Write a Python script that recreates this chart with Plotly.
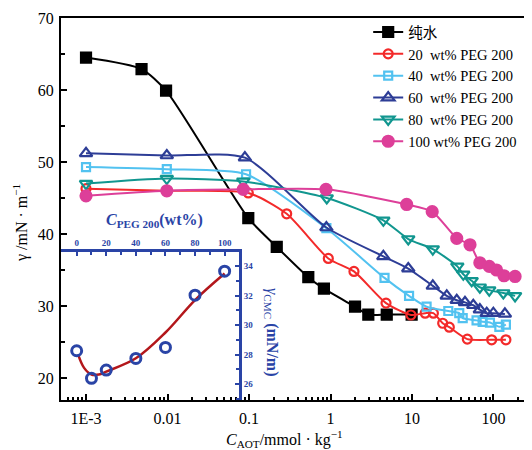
import plotly.graph_objects as go

# ---------------- data ----------------
x_water = [0.001, 0.0048, 0.0096, 0.098, 0.219, 0.534, 0.83, 2.0, 2.91, 4.9, 9.9]
y_water = [64.5, 62.9, 59.9, 42.2, 38.2, 34.0, 32.4, 29.9, 28.8, 28.8, 28.8]

x_p20 = [0.001, 0.0098, 0.098, 0.29, 0.94, 1.94, 4.8, 9.7, 14.5, 18.3, 23.8, 28.7, 47.7, 95, 142]
y_p20 = [46.3, 46.0, 45.7, 42.8, 36.6, 34.8, 30.4, 28.75, 29.0, 29.0, 27.6, 27.05, 25.4, 25.3, 25.3]

x_p40 = [0.001, 0.0098, 0.092, 0.89, 4.6, 9.2, 15.1, 27.9, 38, 41.9, 62, 73.6, 90.5, 118, 142]
y_p40 = [49.3, 49.0, 48.3, 40.8, 33.9, 31.4, 29.9, 29.3, 29.0, 28.3, 28.0, 27.8, 27.7, 27.1, 27.4]

x_p60 = [0.001, 0.0098, 0.089, 0.89, 4.45, 9.0, 18, 26.7, 35.4, 44.7, 56.5, 68, 82.6, 99.6, 138]
y_p60 = [51.2, 50.9, 50.6, 40.9, 36.9, 35.2, 32.8, 31.4, 30.8, 30.5, 30.1, 29.5, 29.0, 29.0, 28.9]

x_p80 = [0.001, 0.0098, 0.085, 0.90, 4.45, 9.0, 18, 36, 42.6, 54, 68, 88.7, 132, 184]
y_p80 = [47.0, 47.7, 47.3, 45.0, 41.9, 39.3, 37.9, 35.5, 34.4, 33.5, 32.6, 32.2, 31.8, 31.4]

x_p100 = [0.001, 0.0098, 0.085, 0.88, 8.6, 17.7, 35.4, 51.5, 68, 88.7, 109, 134.6, 184]
y_p100 = [45.3, 46.0, 46.2, 46.2, 44.1, 43.1, 39.4, 38.5, 36.0, 35.5, 35.0, 34.2, 34.1]

series_names = ["纯水", "20  wt% PEG 200", "40  wt% PEG 200", "60  wt% PEG 200",
                "80  wt% PEG 200", "100 wt% PEG 200"]

# inset
peg_wt = [0, 10, 20, 40, 60, 80, 100]
cmc_gamma = [28.26, 26.39, 26.95, 27.74, 28.49, 32.03, 33.66]
fit_x = [1, 5, 10, 15, 20, 40, 60, 80, 100]
fit_y = [28.0, 27.1, 26.65, 26.65, 26.85, 27.75, 29.5, 31.7, 33.5]

x_ticks = [0.001, 0.01, 0.1, 1, 10, 100]
x_ticktext = ["1E-3", "0.01", "0.1", "1", "10", "100"]
y_ticks = [20, 30, 40, 50, 60, 70]

# ---------------- styles ----------------
FONT = "Liberation Serif, Times New Roman, Noto Sans CJK SC, serif"
INSET_BLUE = "#2a44a6"
styles = [
    dict(color="#000000", symbol="square", size=10, lw=2),
    dict(color="#f32a2a", symbol="circle-open", size=9, lw=2),
    dict(color="#52c2f0", symbol="square-open", size=8, lw=2),
    dict(color="#2d3d96", symbol="triangle-up-open", size=11, lw=2),
    dict(color="#11968f", symbol="triangle-down-open", size=11, lw=2),
    dict(color="#dd3f99", symbol="circle", size=11, lw=2),
]
xs = [x_water, x_p20, x_p40, x_p60, x_p80, x_p100]
ys = [y_water, y_p20, y_p40, y_p60, y_p80, y_p100]

fig = go.Figure()
for name, x, y, st in zip(series_names, xs, ys, styles):
    fig.add_trace(go.Scatter(
        x=x, y=y, name=name, mode="lines+markers",
        line=dict(color=st["color"], width=st["lw"], shape="spline", smoothing=0.65),
        marker=dict(color=st["color"], symbol=st["symbol"], size=st["size"],
                    line=dict(color=st["color"], width=2.2)),
        xaxis="x", yaxis="y",
    ))

# inset traces
fig.add_trace(go.Scatter(
    x=fit_x, y=fit_y, mode="lines", showlegend=False,
    line=dict(color="#b3171b", width=2.5, shape="spline", smoothing=1.0),
    xaxis="x2", yaxis="y2"))
fig.add_trace(go.Scatter(
    x=peg_wt, y=cmc_gamma, mode="markers", showlegend=False,
    marker=dict(symbol="circle-open", size=10, color=INSET_BLUE,
                line=dict(color=INSET_BLUE, width=3)),
    xaxis="x2", yaxis="y2"))

minor_x = [m * 10 ** e for e in range(-4, 3) for m in range(2, 10)]

# page body has an 8px margin: figure is 524x442 so it fits the 532x450 window
PL, PT = 61, 18          # plot-area left/top in window pixels
PW, PH = 469, 382        # plot-area size
OFF = 8

fig.update_layout(
    width=524, height=442,
    margin=dict(l=PL - OFF, r=2, t=PT - OFF, b=442 - (PT - OFF) - PH, autoexpand=False),
    paper_bgcolor="white", plot_bgcolor="rgba(0,0,0,0)",
    font=dict(family=FONT, size=16, color="black"),
    showlegend=True,
    legend=dict(x=0.655, y=1.005, xanchor="left", yanchor="top",
                bgcolor="rgba(0,0,0,0)", borderwidth=0,
                font=dict(family=FONT, size=14.5, color="black"),
                tracegroupgap=0, itemwidth=30),
    xaxis=dict(type="log", range=[-3.307, 2.448], domain=[0, 1],
               showline=True, linecolor="black", linewidth=2, mirror=True,
               ticks="inside", ticklen=6, tickwidth=2, tickcolor="black",
               tickvals=x_ticks, ticktext=x_ticktext, ticklabelstandoff=3,
               minor=dict(tickvals=minor_x, ticks="inside", ticklen=3,
                          tickwidth=2, tickcolor="black"),
               showgrid=False, zeroline=False,
               tickfont=dict(family=FONT, size=16), anchor="y"),
    yaxis=dict(range=[16.94, 70.0], domain=[0, 1],
               showline=True, linecolor="black", linewidth=2,
               ticks="inside", ticklen=6, tickwidth=2, tickcolor="black",
               tickvals=y_ticks, ticklabelstandoff=2,
               minor=dict(dtick=5, tick0=0, ticks="inside", ticklen=4,
                          tickwidth=2, tickcolor="black"),
               showgrid=False, zeroline=False,
               tickfont=dict(family=FONT, size=16), anchor="x"),
    xaxis2=dict(range=[-10.6, 109.7], domain=[0, 0.3795], anchor="y2", side="top",
                showline=True, linecolor=INSET_BLUE, linewidth=3,
                ticks="inside", ticklen=4, tickwidth=2, tickcolor=INSET_BLUE,
                tickvals=[0, 20, 40, 60, 80, 100],
                minor=dict(dtick=10, tick0=0, ticks="inside", ticklen=3,
                           tickwidth=2, tickcolor=INSET_BLUE),
                showgrid=False, zeroline=False,
                tickfont=dict(family=FONT, size=9, color=INSET_BLUE, weight="bold")),
    yaxis2=dict(range=[24.92, 34.95], domain=[0, 0.387], anchor="x2", side="right",
                showline=True, linecolor=INSET_BLUE, linewidth=3,
                ticks="inside", ticklen=4, tickwidth=2, tickcolor=INSET_BLUE,
                tickvals=[26, 28, 30, 32, 34],
                minor=dict(dtick=1, tick0=0, ticks="inside", ticklen=3,
                           tickwidth=2, tickcolor=INSET_BLUE),
                showgrid=False, zeroline=False,
                tickfont=dict(family=FONT, size=9, color=INSET_BLUE, weight="bold")),
)

# right border of main frame (thin grey)
fig.add_shape(type="line", xref="paper", yref="paper", x0=1, x1=1, y0=0, y1=1,
              line=dict(color="#c8c8c8", width=1))

annos = [
    # main axis titles (window pixel centres)
    dict(text="γ /mN · m<sup>−1</sup>", x=20, y=223, textangle=-90, size=16, color="black"),
    dict(text="<i>C</i><sub>AOT</sub>/mmol · kg<sup>−1</sup>", x=284, y=439, textangle=0,
         size=16, color="black"),
    # inset titles
    dict(text="<b><i>C</i><sub>PEG 200</sub>(wt%)</b>", x=154, y=220, textangle=0,
         size=16, color=INSET_BLUE),
    dict(text="<i>γ</i><sub>CMC</sub> <b>(mN/m)</b>", x=272, y=332, textangle=90,
         size=16, color=INSET_BLUE),
]
for a in annos:
    fig.add_annotation(
        text=a["text"], xref="paper", yref="paper",
        x=(a["x"] - PL) / PW, y=(PT + PH - a["y"]) / PH,
        xanchor="center", yanchor="middle", showarrow=False, textangle=a["textangle"],
        font=dict(family=FONT, size=a["size"], color=a["color"]))

fig.write_html("out.html")
